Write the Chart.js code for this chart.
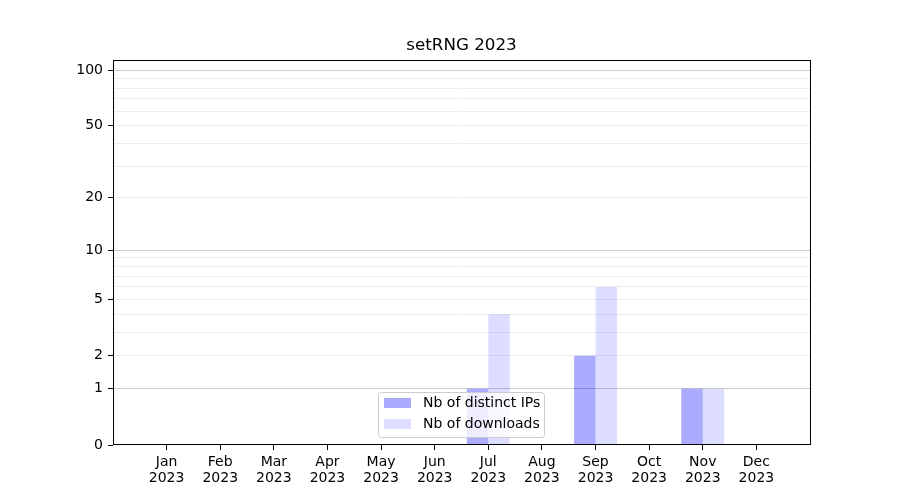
<!DOCTYPE html>
<html>
<head>
<meta charset="utf-8">
<script src="https://cdn.jsdelivr.net/npm/chart.js@4/dist/chart.umd.min.js"></script>
<style>
  html, body { margin: 0; padding: 0; background: #fff; }
  #wrap { width: 900px; height: 500px; }
</style>
</head>
<body>
<div id="wrap"><canvas id="chart" width="900" height="500"></canvas></div>
<script>
// data
const chartTitle = 'setRNG 2023';
const months = ['Jan', 'Feb', 'Mar', 'Apr', 'May', 'Jun', 'Jul', 'Aug', 'Sep', 'Oct', 'Nov', 'Dec'];
const year = '2023';
const distinctIPs = [0, 0, 0, 0, 0, 0, 1, 0, 2, 0, 1, 0];
const downloads = [0, 0, 0, 0, 0, 0, 4, 0, 6, 0, 1, 0];
const yGridValues = [0, 1, 2, 3, 4, 5, 6, 7, 8, 9, 10, 20, 30, 40, 50, 60, 70, 80, 90, 100];
const yLabeled = [0, 1, 2, 5, 10, 20, 50, 100];
const yMajor = [1, 10, 100];
const yTop = 113.5;

// y axis is log(1 + v)
function toAxis(v) { return Math.log10(v + 1); }
function fromAxis(a) { return Math.round(Math.pow(10, a) - 1); }

// pad one empty slot each side so the months sit like the original
const labels = [''].concat(months.map(m => [m, year]), ['']);
function padded(arr) { return [null].concat(arr.map(toAxis), [null]); }

const FONT = 'DejaVu Sans';

const framePlugin = {
    id: 'frame',
    afterDatasetsDraw(chart) {
        const a = chart.chartArea;
        const ctx = chart.ctx;
        ctx.save();
        ctx.strokeStyle = '#000';
        ctx.lineWidth = 1;
        const l = Math.round(a.left), t = Math.round(a.top);
        const r = Math.round(a.right), b = Math.round(a.bottom);
        ctx.strokeRect(l + 0.5, t + 0.5, r - l, b - t - 1);
        ctx.restore();
    },
    afterDraw(chart) {
        const a = chart.chartArea;
        const ctx = chart.ctx;
        ctx.save();
        // title
        ctx.fillStyle = '#000';
        ctx.font = '16.7px "' + FONT + '"';
        ctx.textAlign = 'center';
        ctx.textBaseline = 'middle';
        ctx.fillText(chartTitle, (a.left + a.right) / 2, 46);

        // legend, lower centre inside the axes
        const bx = 378.5, by = 392.5, bw = 166, bh = 45;
        ctx.beginPath();
        ctx.roundRect(bx, by, bw, bh, 3);
        ctx.fillStyle = 'rgba(255,255,255,0.8)';
        ctx.fill();
        ctx.strokeStyle = '#cccccc';
        ctx.lineWidth = 1;
        ctx.stroke();
        ctx.font = '14px "' + FONT + '"';
        ctx.textAlign = 'left';
        chart.data.datasets.forEach((ds, i) => {
            const y = 398 + i * 21;
            ctx.fillStyle = ds.backgroundColor;
            ctx.fillRect(384, y, 27, 10);
            ctx.fillStyle = '#000';
            ctx.fillText(ds.label, 423, y + 5);
        });
        ctx.restore();
    }
};

new Chart(document.getElementById('chart'), {
    type: 'bar',
    data: {
        labels: labels,
        datasets: [{
            label: 'Nb of distinct IPs',
            data: padded(distinctIPs),
            backgroundColor: 'rgba(0,0,255,0.33)',
            borderWidth: 0,
            categoryPercentage: 0.8,
            barPercentage: 1.0
        }, {
            label: 'Nb of downloads',
            data: padded(downloads),
            backgroundColor: 'rgba(0,0,255,0.133)',
            borderWidth: 0,
            categoryPercentage: 0.8,
            barPercentage: 1.0
        }]
    },
    options: {
        responsive: false,
        animation: false,
        layout: { padding: { top: 60, right: 90, bottom: 0, left: 0 } },
        plugins: {
            legend: { display: false },
            title: { display: false },
            tooltip: { enabled: false }
        },
        scales: {
            x: {
                offset: false,
                border: { display: false },
                grid: {
                    offset: false,
                    drawOnChartArea: false,
                    tickLength: 5,
                    tickColor: ctx => (ctx.index === 0 || ctx.index === labels.length - 1) ? 'rgba(0,0,0,0)' : '#000'
                },
                ticks: {
                    autoSkip: false,
                    maxRotation: 0,
                    padding: 4,
                    color: '#000',
                    font: { family: FONT, size: 14, lineHeight: 1.15 }
                },
                afterFit(scale) { scale.height = 55; }
            },
            y: {
                min: 0,
                max: toAxis(yTop),
                border: { display: false },
                afterBuildTicks(scale) {
                    scale.ticks = yGridValues.map(v => ({ value: toAxis(v) }));
                },
                grid: {
                    tickLength: 5,
                    lineWidth: 1,
                    color: ctx => {
                        const v = fromAxis(ctx.tick.value);
                        if (v === 0) return 'rgba(0,0,0,0)';
                        return yMajor.includes(v) ? '#cccccc' : '#ececec';
                    },
                    tickColor: ctx => yLabeled.includes(fromAxis(ctx.tick.value)) ? '#000' : 'rgba(0,0,0,0)'
                },
                ticks: {
                    padding: 5,
                    color: '#000',
                    font: { family: FONT, size: 14 },
                    callback: function(value) {
                        const v = fromAxis(value);
                        return yLabeled.includes(v) ? String(v) : '';
                    }
                },
                afterFit(scale) { scale.width = 113; }
            }
        }
    },
    plugins: [framePlugin]
});
</script>
</body>
</html>
